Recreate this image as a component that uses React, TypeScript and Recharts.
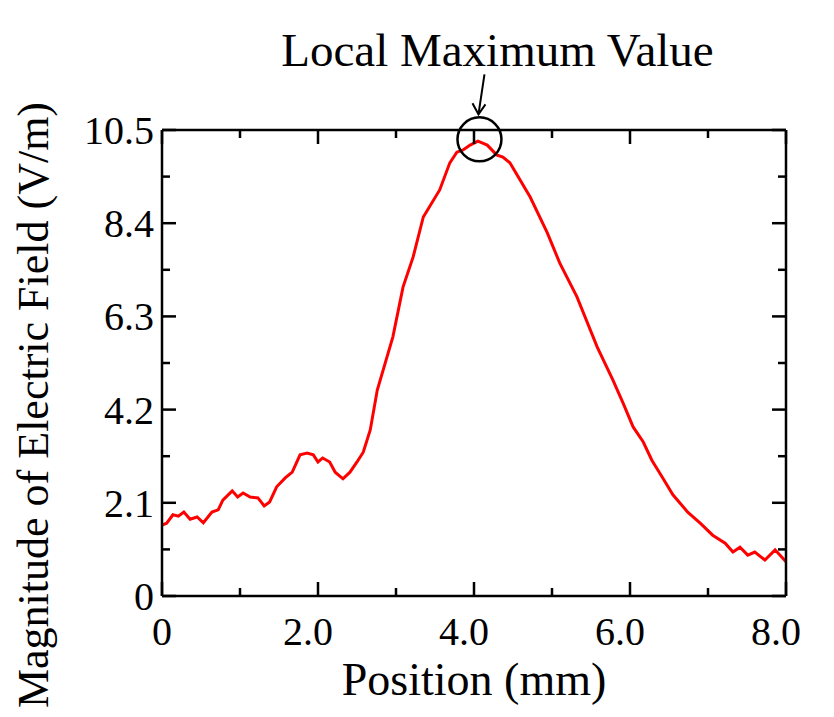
import React from "react"
import { Label, Line, LineChart, ReferenceDot, XAxis, YAxis } from "recharts"

// values
const POSITION_MM = [
  0, 0.06, 0.14, 0.21, 0.28, 0.36, 0.45, 0.53, 0.64, 0.72, 0.78, 0.9, 0.97, 1.04, 1.13, 1.23, 1.31, 1.38, 1.47,
  1.58, 1.67, 1.77, 1.86, 1.94, 2.0, 2.06, 2.15, 2.22, 2.32, 2.41, 2.5, 2.58, 2.67, 2.76, 2.96, 3.09, 3.22, 3.35,
  3.56, 3.69, 3.78, 3.86, 3.95, 4.05, 4.17, 4.29, 4.37, 4.46, 4.72, 4.94, 5.1, 5.32, 5.58, 5.78, 5.91, 6.04, 6.17,
  6.28, 6.42, 6.55, 6.74, 6.9, 7.06, 7.22, 7.32, 7.41, 7.51, 7.6, 7.73, 7.86, 8.0,
]
const FIELD_VM = [
  1.6, 1.64, 1.83, 1.8, 1.89, 1.73, 1.78, 1.65, 1.89, 1.94, 2.16, 2.37, 2.23, 2.32, 2.23, 2.21, 2.03, 2.12, 2.46,
  2.66, 2.79, 3.18, 3.22, 3.18, 3.02, 3.11, 3.02, 2.79, 2.64, 2.79, 3.02, 3.24, 3.74, 4.64, 5.84, 6.96, 7.64, 8.54,
  9.15, 9.76, 10.0, 10.05, 10.16, 10.25, 10.16, 9.94, 9.89, 9.76, 8.99, 8.18, 7.5, 6.74, 5.61, 4.87, 4.35, 3.81,
  3.47, 3.06, 2.66, 2.28, 1.89, 1.64, 1.37, 1.19, 0.99, 1.1, 0.92, 0.99, 0.81, 1.04, 0.77,
]

const X_TICKS = [0, 1, 2, 3, 4, 5, 6, 7, 8]
const X_TICK_LABELS = ["0", "", "2.0", "", "4.0", "", "6.0", "", "8.0"]
const Y_TICKS = [0, 1.05, 2.1, 3.15, 4.2, 5.25, 6.3, 7.35, 8.4, 9.45, 10.5]
const Y_TICK_LABELS = ["0", "", "2.1", "", "4.2", "", "6.3", "", "8.4", "", "10.5"]

const PEAK = { x: 4.07, y: 10.29 }

const FONT = '"Liberation Serif", "Times New Roman", serif'
const AXIS = "#000"
const MAJOR = 14
const MINOR = 8

const data = POSITION_MM.map((x, i) => ({ x, v: FIELD_VM[i] }))

const xLabel = (v: number) => X_TICK_LABELS[X_TICKS.indexOf(v)] ?? ""
const yLabel = (v: number) => Y_TICK_LABELS[Y_TICKS.indexOf(v)] ?? ""

function BottomTick({ x, y, payload }: any) {
  const label = xLabel(payload.value)
  return (
    <g>
      <line x1={x} x2={x} y1={y} y2={y - (label ? MAJOR : MINOR)} stroke={AXIS} strokeWidth={2.5} />
      {label && (
        <text x={x + (label.length > 1 ? -10 : 0)} y={y + 49} textAnchor="middle" fontSize={40} fontFamily={FONT} fill="#000">
          {label}
        </text>
      )}
    </g>
  )
}

function TopTick({ x, y, payload }: any) {
  const label = xLabel(payload.value)
  return <line x1={x} x2={x} y1={y} y2={y + (label ? MAJOR : MINOR)} stroke={AXIS} strokeWidth={2.5} />
}

function LeftTick({ x, y, payload }: any) {
  const label = yLabel(payload.value)
  return (
    <g>
      <line x1={x} x2={x + (label ? MAJOR : MINOR)} y1={y} y2={y} stroke={AXIS} strokeWidth={2.5} />
      {label && (
        <text x={x - 8} y={y + 14} textAnchor="end" fontSize={40} fontFamily={FONT} fill="#000">
          {label}
        </text>
      )}
    </g>
  )
}

function RightTick({ x, y, payload }: any) {
  const label = yLabel(payload.value)
  return <line x1={x} x2={x - (label ? MAJOR : MINOR)} y1={y} y2={y} stroke={AXIS} strokeWidth={2.5} />
}

function PeakMarker({ cx, cy }: any) {
  const tipX = cx - 1
  const tipY = cy - 25
  return (
    <g>
      <circle cx={cx} cy={cy} r={22} fill="none" stroke="#000" strokeWidth={2.5} />
      <line x1={cx + 5} y1={cy - 65} x2={tipX} y2={tipY} stroke="#000" strokeWidth={2} />
      <polyline
        points={`${tipX - 6},${tipY - 11} ${tipX},${tipY} ${tipX + 7},${tipY - 10}`}
        fill="none"
        stroke="#000"
        strokeWidth={2}
      />
      <text x={cx + 18} y={cy - 73} textAnchor="middle" fontSize={47} fontFamily={FONT} fill="#000">
        Local Maximum Value
      </text>
    </g>
  )
}

function YTitle({ viewBox }: any) {
  const cx = 48
  const cy = viewBox.y + viewBox.height / 2 + 42
  return (
    <text
      x={cx}
      y={cy}
      transform={`rotate(-90, ${cx}, ${cy})`}
      textAnchor="middle"
      fontSize={44}
      fontFamily={FONT}
      fill="#000"
    >
      Magnitude of Electric Field (V/m)
    </text>
  )
}

export default function App() {
  return (
    <div style={{ position: "absolute", left: 0, top: 0, width: 834, height: 717, background: "#fff" }}>
      <LineChart width={834} height={717} data={data} margin={{ top: 129, right: 47, left: 0, bottom: 0 }}>
        <XAxis
          xAxisId="bottom"
          dataKey="x"
          type="number"
          domain={[0, 8]}
          ticks={X_TICKS}
          interval={0}
          allowDataOverflow
          height={121}
          tickSize={0}
          tickMargin={0}
          tickLine={false}
          axisLine={{ stroke: AXIS, strokeWidth: 2.5 }}
          tick={<BottomTick />}
        >
          <Label
            value="Position (mm)"
            position="insideBottom"
            offset={22}
            style={{ fontSize: 46, fontFamily: FONT, fill: "#000" }}
          />
        </XAxis>
        <XAxis
          xAxisId="top"
          orientation="top"
          dataKey="x"
          type="number"
          domain={[0, 8]}
          ticks={X_TICKS}
          interval={0}
          allowDataOverflow
          height={1}
          tickSize={0}
          tickMargin={0}
          tickLine={false}
          axisLine={{ stroke: AXIS, strokeWidth: 2.5 }}
          tick={<TopTick />}
        />
        <YAxis
          yAxisId="left"
          type="number"
          domain={[0, 10.5]}
          ticks={Y_TICKS}
          interval={0}
          allowDataOverflow
          width={162}
          tickSize={0}
          tickMargin={0}
          tickLine={false}
          axisLine={{ stroke: AXIS, strokeWidth: 2.5 }}
          tick={<LeftTick />}
        >
          <Label content={<YTitle />} />
        </YAxis>
        <YAxis
          yAxisId="right"
          orientation="right"
          type="number"
          domain={[0, 10.5]}
          ticks={Y_TICKS}
          interval={0}
          allowDataOverflow
          width={1}
          tickSize={0}
          tickMargin={0}
          tickLine={false}
          axisLine={{ stroke: AXIS, strokeWidth: 2.5 }}
          tick={<RightTick />}
        />
        <Line
          xAxisId="top"
          yAxisId="right"
          dataKey="v"
          stroke="#ffffff"
          strokeOpacity={0}
          dot={false}
          activeDot={false}
          isAnimationActive={false}
        />
        <Line
          xAxisId="bottom"
          yAxisId="left"
          type="linear"
          dataKey="v"
          stroke="#ff0000"
          strokeWidth={3}
          dot={false}
          activeDot={false}
          isAnimationActive={false}
        />
        <ReferenceDot
          xAxisId="bottom"
          yAxisId="left"
          x={PEAK.x}
          y={PEAK.y}
          r={22}
          ifOverflow="visible"
          shape={<PeakMarker />}
        />
      </LineChart>
    </div>
  )
}
